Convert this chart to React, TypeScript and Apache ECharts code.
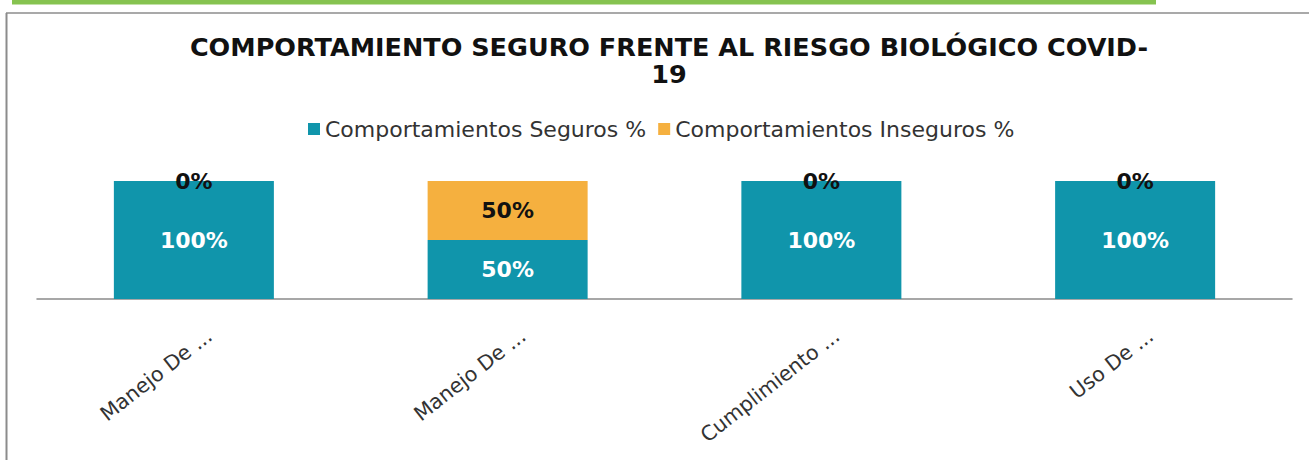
import React, { useEffect, useRef } from "react";
import * as echarts from "echarts";

const categories = ["Manejo De ...", "Manejo De ...", "Cumplimiento ...", "Uso De ..."];
const seguros = [100, 50, 100, 100];
const inseguros = [0, 50, 0, 0];
const seriesNames = ["Comportamientos Seguros %", "Comportamientos Inseguros %"];
const titleText = "COMPORTAMIENTO SEGURO FRENTE AL RIESGO BIOLÓGICO COVID-\n19";

const TEAL = "#1095AB";
const ORANGE = "#F5B03F";

export default function App() {
  const ref = useRef<HTMLDivElement>(null);
  useEffect(() => {
    if (!ref.current) return;
    const chart = echarts.init(ref.current, null, { renderer: "svg" });
    chart.setOption({
      animation: false,
      backgroundColor: "#ffffff",
      title: {
        text: titleText,
        left: 664,
        textAlign: "center",
        top: 28,
        textStyle: {
          fontFamily: "DejaVu Sans",
          fontWeight: "bold",
          fontSize: 25.5,
          lineHeight: 27.5,
          color: "#111111",
        },
      },
      legend: {
        data: seriesNames,
        left: 303,
        width: 1000,
        top: 113,
        icon: "rect",
        itemWidth: 12,
        itemHeight: 12,
        itemGap: 12,
        textStyle: { fontFamily: "DejaVu Sans", fontSize: 22, color: "#333333" },
      },
      grid: { left: 37, right: 17, top: 181, bottom: 161, containLabel: false },
      xAxis: {
        type: "category",
        data: categories,
        axisLine: { lineStyle: { color: "#8a8a8a", width: 1.5 } },
        axisTick: { show: false },
        axisLabel: {
          rotate: 38,
          margin: 14.5,
          align: "right",
          verticalAlign: "top",
          lineHeight: 50,
          fontFamily: "DejaVu Sans",
          fontSize: 20.5,
          color: "#333333",
          interval: 0,
        },
      },
      yAxis: { type: "value", min: 0, max: 100, show: false },
      series: [
        {
          name: seriesNames[0],
          type: "bar",
          stack: "total",
          barWidth: "51%",
          data: seguros,
          itemStyle: { color: TEAL },
          label: {
            show: true,
            position: "inside",
            formatter: "{c}%",
            color: "#ffffff",
            fontFamily: "DejaVu Sans",
            fontWeight: "bold",
            fontSize: 22,
          },
        },
        {
          name: seriesNames[1],
          type: "bar",
          stack: "total",
          barWidth: "51%",
          data: inseguros,
          itemStyle: { color: ORANGE },
          label: {
            show: true,
            position: "inside",
            formatter: "{c}%",
            color: "#111111",
            fontFamily: "DejaVu Sans",
            fontWeight: "bold",
            fontSize: 22,
          },
        },
      ],
      graphic: [
        { type: "rect", shape: { x: 12, y: 0, width: 1144, height: 4.5 }, style: { fill: "#86C350" } },
        { type: "line", shape: { x1: 6, y1: 13, x2: 1309, y2: 13 }, style: { stroke: "#8c8c8c", lineWidth: 1.5 } },
        { type: "line", shape: { x1: 6.5, y1: 13, x2: 6.5, y2: 460 }, style: { stroke: "#8c8c8c", lineWidth: 2 } },
      ],
    });
    return () => chart.dispose();
  }, []);
  return <div ref={ref} style={{ position: "fixed", left: 0, top: 0, width: 1309, height: 460 }} />;
}
